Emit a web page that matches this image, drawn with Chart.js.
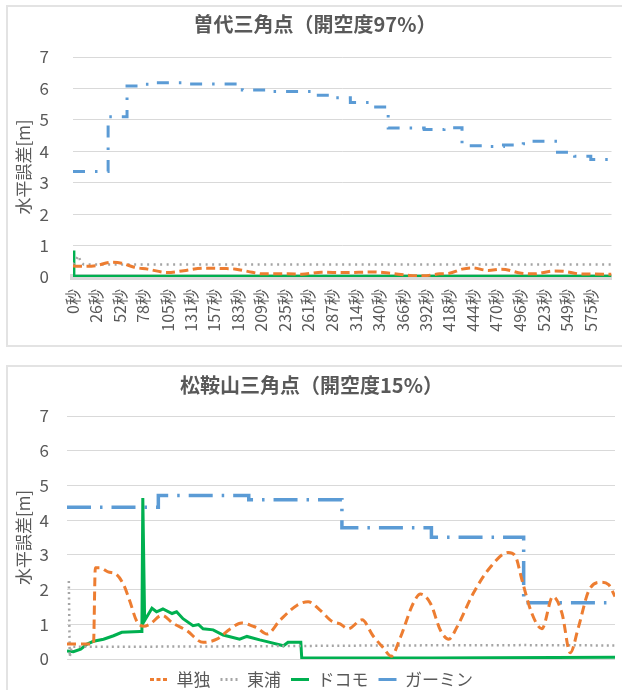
<!DOCTYPE html>
<html>
<head>
<meta charset="utf-8">
<script src="https://cdn.jsdelivr.net/npm/chart.js@4.4.1/dist/chart.umd.min.js"></script>
<style>
body { margin: 0; width: 622px; height: 690px; overflow: hidden; background: #fff; position: relative; }
.box { position: absolute; left: 6px; width: 700px; border: 2px solid #e3e3e3; box-sizing: border-box; }
#box1 { top: 5px; height: 342px; }
#box2 { top: 365px; height: 400px; }
canvas { position: absolute; left: 8px; }
#c1 { top: 7px; }
#c2 { top: 367px; }
</style>
</head>
<body>
<div class="box" id="box1"></div>
<div class="box" id="box2"></div>
<canvas id="c1" width="614" height="338"></canvas>
<canvas id="c2" width="614" height="331"></canvas>
<script>
const FONT = "'Noto Sans CJK JP', 'Noto Sans', sans-serif";
const TEXT = '#595959';
const GRID = '#d9d9d9';

const seriesNames = ['単独', '東浦', 'ドコモ', 'ガーミン'];
const seriesColors = ['#ed7d31', '#a5a5a5', '#00b050', '#5b9bd5'];

// top chart: 曽代三角点, time in seconds
const topTitle = '曽代三角点（開空度97%）';
const topTicks = [0, 26, 52, 78, 105, 131, 157, 183, 209, 235, 261, 287, 314, 340, 366, 392, 418, 444, 470, 496, 523, 549, 575];
const topSoloT = [0, 12, 25, 43, 54, 68, 83, 105, 123, 145, 167, 181, 199, 210, 239, 254, 276, 301, 334, 352, 374, 389, 407, 418, 432, 443, 461, 476, 498, 512, 534, 545, 563, 598];
const topSoloV = [0.35, 0.34, 0.36, 0.47, 0.44, 0.31, 0.25, 0.14, 0.20, 0.28, 0.27, 0.25, 0.15, 0.10, 0.10, 0.09, 0.15, 0.14, 0.16, 0.12, 0.05, 0.04, 0.10, 0.12, 0.25, 0.29, 0.21, 0.25, 0.12, 0.10, 0.19, 0.18, 0.10, 0.09];
const topHigaT = [0, 6, 9, 12, 598];
const topHigaV = [0.40, 0.68, 0.45, 0.40, 0.40];
const topDocoT = [0, 1, 598];
const topDocoV = [0.84, 0.02, 0.02];
const topGarT = [0, 39, 60, 72, 85, 130, 188, 220, 267, 290, 308, 329, 350, 390, 412, 432, 455, 478, 500, 512, 538, 557, 575, 598];
const topGarV = [3.36, 5.10, 6.08, 6.13, 6.18, 6.14, 5.95, 5.90, 5.78, 5.70, 5.55, 5.41, 4.74, 4.69, 4.75, 4.18, 4.15, 4.20, 4.24, 4.32, 3.97, 3.84, 3.74, 3.74];

// bottom chart: 松鞍山三角点
const botTitle = '松鞍山三角点（開空度15%）';
const botSoloT = [0, 29, 31, 36, 45, 54, 62, 69, 76, 84, 91, 104, 116, 131, 149, 164, 179, 191, 204, 208, 219, 233, 252, 264, 277, 290, 299, 308, 323, 335, 346, 355, 365, 379, 387, 398, 409, 418, 427, 445, 463, 483, 491, 498, 509, 520, 532, 542, 551, 560, 571, 584, 593, 600];
const botSoloV = [0.43, 0.43, 2.63, 2.63, 2.51, 2.44, 2.14, 1.65, 1.11, 0.94, 1.01, 1.26, 1.03, 0.82, 0.48, 0.57, 0.87, 1.04, 0.94, 0.90, 0.72, 1.11, 1.55, 1.65, 1.41, 1.09, 1.01, 0.87, 1.13, 0.67, 0.33, 0.08, 0.62, 1.60, 1.87, 1.60, 0.82, 0.57, 0.92, 1.90, 2.63, 3.07, 2.96, 2.29, 1.31, 0.87, 1.80, 1.31, 0.18, 0.92, 1.95, 2.21, 2.14, 1.80];
const botHigaT = [2, 3, 5, 150, 350, 500, 600];
const botHigaV = [2.25, 0.06, 0.35, 0.36, 0.39, 0.40, 0.39];
const botDocoT = [0, 7, 15, 22, 29, 40, 51, 60, 80, 82, 83, 85, 93, 98, 105, 115, 120, 127, 138, 144, 149, 160, 171, 189, 197, 211, 219, 237, 242, 256, 257, 400, 600];
const botDocoV = [0.23, 0.21, 0.28, 0.43, 0.51, 0.57, 0.67, 0.77, 0.79, 0.79, 4.64, 1.11, 1.46, 1.36, 1.44, 1.31, 1.36, 1.16, 0.96, 0.99, 0.87, 0.84, 0.69, 0.57, 0.65, 0.55, 0.50, 0.38, 0.48, 0.48, 0.03, 0.03, 0.05];
const botGarT = [0, 100, 199, 301, 399, 500, 600];
const botGarV = [4.37, 4.71, 4.59, 3.78, 3.51, 1.62, 1.62];

function pts(t, v) {
    return t.map((x, i) => ({x: x, y: v[i]}));
}

// builds one line dataset with the excel-ish style
function makeSet(idx, data, dash, width) {
    let ds = {
        label: seriesNames[idx],
        data: data,
        borderColor: seriesColors[idx],
        backgroundColor: seriesColors[idx],
        borderWidth: width,
        borderDash: dash,
        pointRadius: 0,
        pointHitRadius: 0,
        fill: false,
        tension: 0
    };
    if (idx == 0) ds.cubicInterpolationMode = 'monotone';
    if (idx == 3) ds.stepped = true;
    return ds;
}

const legendDash = [[4, 2.5], [2, 3], [], []];

function yAxis(width, pad) {
    return {
        min: 0, max: 7,
        afterFit: s => { s.width = width; },
        ticks: { stepSize: 1, padding: pad, color: TEXT, font: {family: FONT, size: 17} },
        grid: { color: GRID, drawTicks: false },
        border: { display: false },
        title: { display: true, text: '水平誤差[m]', color: TEXT, font: {family: FONT, size: 17}, padding: {top: 5, bottom: 0} }
    };
}

new Chart(document.getElementById('c1'), {
    type: 'line',
    data: { datasets: [
        makeSet(0, pts(topSoloT, topSoloV), [9, 4.5], 3),
        makeSet(1, pts(topHigaT, topHigaV), [2, 4.5], 2.5),
        makeSet(2, pts(topDocoT, topDocoV), [], 3),
        makeSet(3, pts(topGarT, topGarV), [12, 10, 2.5, 10], 3)
    ]},
    options: {
        responsive: false, animation: false,
        layout: { padding: 0 },
        plugins: {
            legend: { display: false },
            tooltip: { enabled: false },
            title: { display: true, text: topTitle, color: TEXT, font: {family: FONT, size: 20, weight: 'bold'}, padding: {top: 5, bottom: 21} }
        },
        scales: {
            x: {
                type: 'linear', min: 0, max: 598,
                afterBuildTicks: s => { s.ticks = topTicks.map(v => ({value: v})); },
                afterFit: s => { s.height = 68; },
                grid: { display: false, drawTicks: false },
                border: { display: true, color: GRID, width: 6 },
                ticks: { autoSkip: false, maxRotation: 90, minRotation: 90, padding: 12, color: TEXT,
                    font: {family: FONT, size: 16}, callback: v => v + '秒' }
            },
            y: yAxis(65, 24)
        }
    }
});

new Chart(document.getElementById('c2'), {
    type: 'line',
    data: { datasets: [
        makeSet(0, pts(botSoloT, botSoloV), [9, 5], 3),
        makeSet(1, pts(botHigaT, botHigaV), [2, 3.5], 2.5),
        makeSet(2, pts(botDocoT, botDocoV), [], 3),
        makeSet(3, pts(botGarT, botGarV), [24, 9, 2.5, 9], 3.5)
    ]},
    options: {
        responsive: false, animation: false,
        layout: { padding: {left: 0, right: 7, top: 0, bottom: 0} },
        plugins: {
            tooltip: { enabled: false },
            title: { display: true, text: botTitle, color: TEXT, font: {family: FONT, size: 20, weight: 'bold'}, padding: {top: 6, bottom: 19} },
            legend: {
                position: 'bottom',
                labels: {
                    usePointStyle: true, pointStyleWidth: 18, padding: 10, color: TEXT,
                    font: {family: FONT, size: 17},
                    generateLabels: chart => chart.data.datasets.map((ds, i) => ({
                        text: ds.label, strokeStyle: ds.borderColor, fillStyle: ds.borderColor,
                        lineWidth: 3, lineDash: legendDash[i], pointStyle: 'line',
                        datasetIndex: i, hidden: false, fontColor: TEXT
                    }))
                }
            }
        },
        scales: {
            x: {
                type: 'linear', min: 0, max: 600,
                afterFit: s => { s.height = 2; },
                grid: { display: false, drawTicks: false },
                border: { display: false },
                ticks: { display: false }
            },
            y: yAxis(59, 18)
        }
    }
});
</script>
</body>
</html>
